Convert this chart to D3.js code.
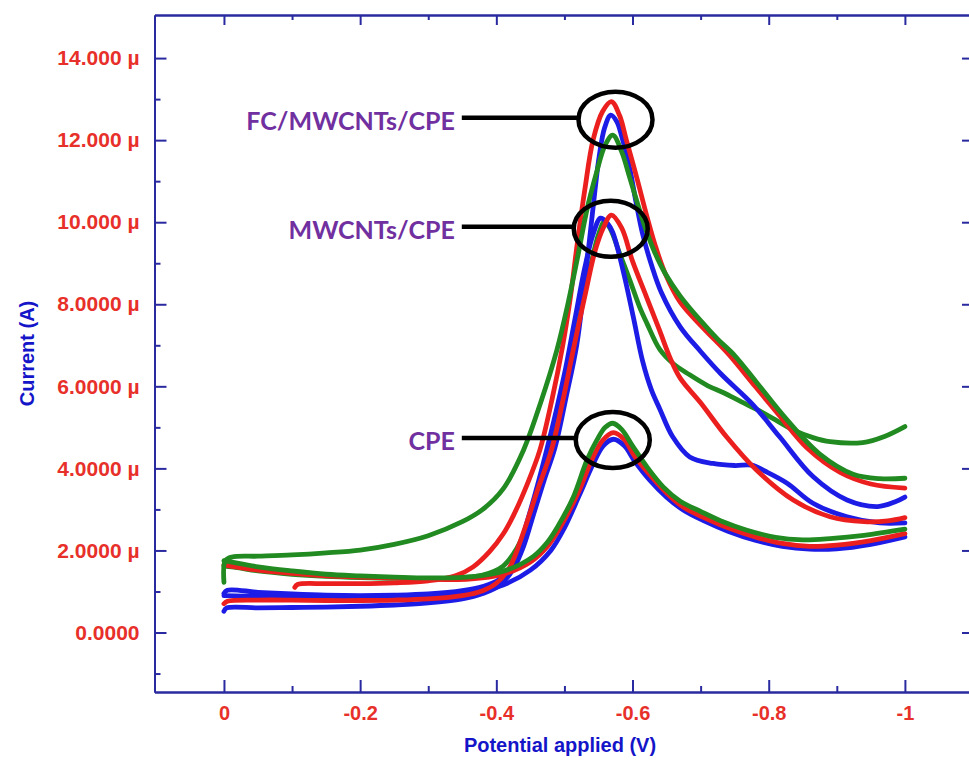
<!DOCTYPE html>
<html>
<head>
<meta charset="utf-8">
<title>Current vs potential</title>
<script src="https://d3js.org/d3.v7.min.js"></script>
<style>
    body { margin: 0; background: #fff; }
    .axis .domain, .axis line { stroke: #2a2aa0; stroke-width: 2; }
    .axis text { fill: #e8302a; font-family: "Liberation Sans", Arial, sans-serif; font-weight: bold; }
    .yaxis text { font-size: 21px; }
    .xaxis text { font-size: 20px; }
    .curve { fill: none; stroke-width: 4.8; stroke-linejoin: round; stroke-linecap: round; }
</style>
</head>
<body>
<div id="chart"></div>
<script>
// potential (V), current (µA)
var fcRed = [[-0.104,1.1],[-0.108,1.17],[-0.15,1.19],[-0.2,1.19],[-0.25,1.21],[-0.3,1.26],[-0.34,1.38],[-0.366,1.6],[-0.39,1.97],[-0.41,2.4],[-0.425,2.85],[-0.445,3.6],[-0.464,4.45],[-0.482,5.7],[-0.497,6.95],[-0.509,8.2],[-0.519,9.5],[-0.53,10.8],[-0.542,12.0],[-0.556,12.7],[-0.569,12.94],[-0.581,12.6],[-0.591,12.0],[-0.606,11.1],[-0.621,10.15],[-0.633,9.45],[-0.648,8.75],[-0.67,8.05],[-0.705,7.4],[-0.74,6.8],[-0.78,6.0],[-0.815,5.3],[-0.856,4.5],[-0.905,3.9],[-0.95,3.62],[-1.0,3.52]];
var fcBlue = [[0,0.52],[-0.004,0.6],[-0.05,0.6],[-0.1,0.61],[-0.15,0.62],[-0.2,0.64],[-0.25,0.67],[-0.3,0.72],[-0.35,0.82],[-0.38,0.95],[-0.405,1.15],[-0.425,1.55],[-0.44,2.1],[-0.455,2.9],[-0.47,3.7],[-0.486,4.5],[-0.502,5.7],[-0.518,7.0],[-0.528,8.3],[-0.537,9.6],[-0.545,10.8],[-0.551,11.6],[-0.559,12.3],[-0.568,12.61],[-0.577,12.45],[-0.584,12.1],[-0.596,11.3],[-0.605,10.5],[-0.615,9.7],[-0.628,8.95],[-0.642,8.3],[-0.67,7.45],[-0.7,6.85],[-0.73,6.3],[-0.777,5.55],[-0.816,4.77],[-0.865,3.8],[-0.915,3.23],[-0.96,3.07],[-0.985,3.18],[-1.0,3.3]];
var fcGreen = [[0,1.22],[-0.002,1.75],[-0.012,1.84],[-0.05,1.86],[-0.1,1.89],[-0.15,1.94],[-0.2,2.01],[-0.25,2.15],[-0.3,2.36],[-0.35,2.7],[-0.38,3.0],[-0.41,3.5],[-0.44,4.45],[-0.465,5.6],[-0.489,6.89],[-0.505,8.0],[-0.52,9.2],[-0.533,10.3],[-0.547,11.2],[-0.559,11.85],[-0.571,12.12],[-0.584,11.72],[-0.596,11.08],[-0.608,10.42],[-0.62,9.8],[-0.633,9.25],[-0.648,8.75],[-0.67,8.2],[-0.7,7.6],[-0.725,7.15],[-0.75,6.75],[-0.782,6.1],[-0.826,5.2],[-0.875,4.35],[-0.924,3.86],[-0.963,3.75],[-1.0,3.76]];
var mwBlue = [[0,0.95],[-0.005,1.03],[-0.05,0.98],[-0.1,0.94],[-0.15,0.91],[-0.2,0.9],[-0.25,0.91],[-0.3,0.94],[-0.35,1.02],[-0.38,1.12],[-0.405,1.3],[-0.425,1.7],[-0.447,2.8],[-0.474,4.45],[-0.5,6.3],[-0.515,7.6],[-0.53,8.9],[-0.542,9.7],[-0.553,10.1],[-0.563,9.98],[-0.571,9.75],[-0.586,8.83],[-0.601,7.7],[-0.615,6.6],[-0.628,5.9],[-0.64,5.45],[-0.659,4.77],[-0.684,4.28],[-0.718,4.12],[-0.75,4.07],[-0.775,4.08],[-0.795,3.93],[-0.827,3.64],[-0.865,3.15],[-0.915,2.82],[-0.963,2.67],[-1.0,2.67]];
var mwRed = [[0,0.7],[-0.005,0.76],[-0.05,0.79],[-0.1,0.79],[-0.15,0.78],[-0.2,0.78],[-0.25,0.79],[-0.3,0.82],[-0.35,0.9],[-0.38,1.02],[-0.4,1.2],[-0.42,1.6],[-0.44,2.45],[-0.46,3.45],[-0.481,4.45],[-0.497,5.6],[-0.513,6.89],[-0.53,8.2],[-0.545,9.3],[-0.557,9.86],[-0.569,10.17],[-0.584,9.86],[-0.6,9.05],[-0.62,8.2],[-0.64,7.35],[-0.655,6.7],[-0.67,6.2],[-0.7,5.6],[-0.738,4.77],[-0.782,3.96],[-0.836,3.23],[-0.89,2.82],[-0.94,2.7],[-0.975,2.72],[-1.0,2.8]];
var mwGreen = [[0,1.62],[-0.02,1.58],[-0.05,1.5],[-0.1,1.42],[-0.15,1.37],[-0.2,1.34],[-0.25,1.32],[-0.3,1.32],[-0.35,1.34],[-0.38,1.4],[-0.41,1.62],[-0.43,2.05],[-0.45,2.8],[-0.47,3.85],[-0.49,5.1],[-0.508,6.5],[-0.525,7.9],[-0.54,9.05],[-0.55,9.7],[-0.559,10.02],[-0.567,9.85],[-0.582,9.2],[-0.596,8.59],[-0.61,7.95],[-0.621,7.54],[-0.64,6.9],[-0.66,6.55],[-0.684,6.28],[-0.71,6.02],[-0.733,5.85],[-0.76,5.62],[-0.783,5.43],[-0.81,5.18],[-0.836,4.94],[-0.865,4.75],[-0.89,4.65],[-0.938,4.63],[-0.97,4.78],[-1.0,5.02]];
var cpeGreen = [[0,1.75],[-0.01,1.72],[-0.05,1.6],[-0.1,1.5],[-0.15,1.42],[-0.2,1.38],[-0.25,1.35],[-0.3,1.33],[-0.366,1.36],[-0.415,1.52],[-0.454,1.85],[-0.475,2.2],[-0.489,2.55],[-0.513,3.3],[-0.533,4.2],[-0.548,4.7],[-0.56,5.0],[-0.571,5.1],[-0.584,4.95],[-0.6,4.55],[-0.621,4.04],[-0.645,3.55],[-0.67,3.2],[-0.7,2.95],[-0.73,2.72],[-0.767,2.5],[-0.81,2.32],[-0.85,2.26],[-0.89,2.29],[-0.94,2.37],[-1.0,2.52]];
var cpeRed = [[0,1.65],[-0.01,1.62],[-0.05,1.52],[-0.1,1.44],[-0.15,1.38],[-0.2,1.35],[-0.25,1.33],[-0.3,1.3],[-0.36,1.3],[-0.41,1.42],[-0.45,1.72],[-0.475,2.1],[-0.495,2.6],[-0.52,3.4],[-0.54,4.2],[-0.556,4.68],[-0.572,4.87],[-0.588,4.7],[-0.603,4.3],[-0.625,3.85],[-0.65,3.4],[-0.675,3.05],[-0.705,2.8],[-0.74,2.55],[-0.78,2.33],[-0.82,2.17],[-0.86,2.1],[-0.9,2.13],[-0.95,2.24],[-1.0,2.41]];
var cpeBlue = [[0,0.9],[-0.05,0.88],[-0.1,0.86],[-0.2,0.84],[-0.3,0.87],[-0.36,0.96],[-0.41,1.16],[-0.45,1.52],[-0.48,2.0],[-0.5,2.55],[-0.522,3.35],[-0.542,4.1],[-0.557,4.55],[-0.572,4.71],[-0.588,4.55],[-0.603,4.18],[-0.625,3.72],[-0.65,3.3],[-0.675,2.98],[-0.705,2.72],[-0.74,2.47],[-0.78,2.25],[-0.82,2.1],[-0.86,2.03],[-0.9,2.04],[-0.95,2.15],[-1.0,2.33]];

var xTicks = [0, -0.2, -0.4, -0.6, -0.8, -1];
var xTickLabels = ["0", "-0.2", "-0.4", "-0.6", "-0.8", "-1"];
var xMinor = [-0.1, -0.3, -0.5, -0.7, -0.9];
var yTicks = [0, 2, 4, 6, 8, 10, 12, 14];
var yTickLabels = ["0.0000", "2.0000 µ", "4.0000 µ", "6.0000 µ", "8.0000 µ", "10.000 µ", "12.000 µ", "14.000 µ"];
var yMinor = [-1, 1, 3, 5, 7, 9, 11, 13];

// peak call-outs: label, ellipse centre potential, current
var noteLabels = ["FC/MWCNTs/CPE", "MWCNTs/CPE", "CPE"];
var notePotential = [-0.575, -0.568, -0.571];
var noteCurrent = [12.5, 9.84, 4.69];
var noteTextPotential = -0.339;

var width = 969, height = 760;
var blue = "#1c1ce6", red = "#ec1f1f", green = "#218a21";

// drawing order (bottom first)
var series = [
    {pts: mwGreen, color: green},
    {pts: cpeBlue, color: blue},
    {pts: mwBlue, color: blue},
    {pts: fcBlue, color: blue},
    {pts: cpeRed, color: red},
    {pts: mwRed, color: red},
    {pts: fcRed, color: red},
    {pts: cpeGreen, color: green},
    {pts: fcGreen, color: green}
];

var x = d3.scaleLinear().domain([0.102, -1.1]).range([154.5, 973]);
var y = d3.scaleLinear().domain([-1.45, 15.05]).range([692, 15]);

var svg = d3.select("#chart").append("svg")
    .attr("width", width)
    .attr("height", height);

var plotLeft = x.range()[0], plotRight = x.range()[1];
var plotTop = y.range()[1], plotBottom = y.range()[0];

// curves
var line = d3.line()
    .x(function(d) { return x(d[0]); })
    .y(function(d) { return y(d[1]); })
    .curve(d3.curveCatmullRom.alpha(0.5));

svg.append("g").selectAll("path")
    .data(series)
    .enter().append("path")
    .attr("class", "curve")
    .attr("d", function(d) { return line(d.pts); })
    .style("stroke", function(d) { return d.color; });

// axes (ticks pointing into the plot)
svg.append("g").attr("class", "axis yaxis")
    .attr("transform", "translate(" + plotLeft + ",0)")
    .call(d3.axisLeft(y).tickValues(yTicks).tickSize(-12).tickSizeOuter(0).tickPadding(15)
        .tickFormat(function(d, i) { return yTickLabels[i]; }));
svg.append("g").attr("class", "axis")
    .attr("transform", "translate(" + plotLeft + ",0)")
    .call(d3.axisLeft(y).tickValues(yMinor).tickSize(-6).tickSizeOuter(0).tickFormat(""));

svg.append("g").attr("class", "axis xaxis")
    .attr("transform", "translate(0," + plotBottom + ")")
    .call(d3.axisBottom(x).tickValues(xTicks).tickSize(-12).tickSizeOuter(0).tickPadding(14)
        .tickFormat(function(d, i) { return xTickLabels[i]; }));
svg.append("g").attr("class", "axis")
    .attr("transform", "translate(0," + plotBottom + ")")
    .call(d3.axisBottom(x).tickValues(xMinor).tickSize(-6).tickSizeOuter(0).tickFormat(""));

svg.append("g").attr("class", "axis")
    .attr("transform", "translate(0," + plotTop + ")")
    .call(d3.axisTop(x).tickValues(xTicks).tickSize(-10).tickSizeOuter(0).tickFormat(""));
svg.append("g").attr("class", "axis")
    .attr("transform", "translate(0," + plotTop + ")")
    .call(d3.axisTop(x).tickValues(xMinor).tickSize(-5).tickSizeOuter(0).tickFormat(""));

svg.append("g").attr("class", "axis")
    .attr("transform", "translate(" + plotRight + ",0)")
    .call(d3.axisRight(y).tickValues(yTicks).tickSize(-11).tickSizeOuter(0).tickFormat(""));

// axis titles
svg.append("text")
    .attr("transform", "translate(27," + (plotTop + plotBottom) / 2 + ") rotate(-90)")
    .attr("text-anchor", "middle")
    .attr("dominant-baseline", "central")
    .style("font-family", "'Liberation Sans', Arial, sans-serif")
    .style("font-weight", "bold")
    .style("font-size", "20px")
    .style("fill", "#1414c8")
    .text("Current (A)");

svg.append("text")
    .attr("x", 560)
    .attr("y", 745)
    .attr("text-anchor", "middle")
    .attr("dominant-baseline", "central")
    .style("font-family", "'Liberation Sans', Arial, sans-serif")
    .style("font-weight", "bold")
    .style("font-size", "20px")
    .style("fill", "#1414c8")
    .text("Potential applied (V)");

// peak call-outs
var rx = 37, ry = 28;
var notes = svg.append("g").selectAll("g")
    .data(noteLabels)
    .enter().append("g");

notes.append("ellipse")
    .attr("cx", function(d, i) { return x(notePotential[i]); })
    .attr("cy", function(d, i) { return y(noteCurrent[i]); })
    .attr("rx", rx)
    .attr("ry", ry)
    .style("fill", "none")
    .style("stroke", "#000")
    .style("stroke-width", 4.5);

notes.append("line")
    .attr("x1", x(noteTextPotential) + 7)
    .attr("x2", function(d, i) { return x(notePotential[i]) - rx; })
    .attr("y1", function(d, i) { return y(noteCurrent[i]) - 2; })
    .attr("y2", function(d, i) { return y(noteCurrent[i]) - 2; })
    .style("stroke", "#000")
    .style("stroke-width", 4.5);

notes.append("text")
    .attr("x", x(noteTextPotential))
    .attr("y", function(d, i) { return y(noteCurrent[i]); })
    .attr("text-anchor", "end")
    .attr("dominant-baseline", "central")
    .style("font-family", "Lato, 'Open Sans', sans-serif")
    .style("font-weight", "bold")
    .style("font-size", "25px")
    .style("fill", "#7030a0")
    .text(function(d) { return d; });
</script>
</body>
</html>
